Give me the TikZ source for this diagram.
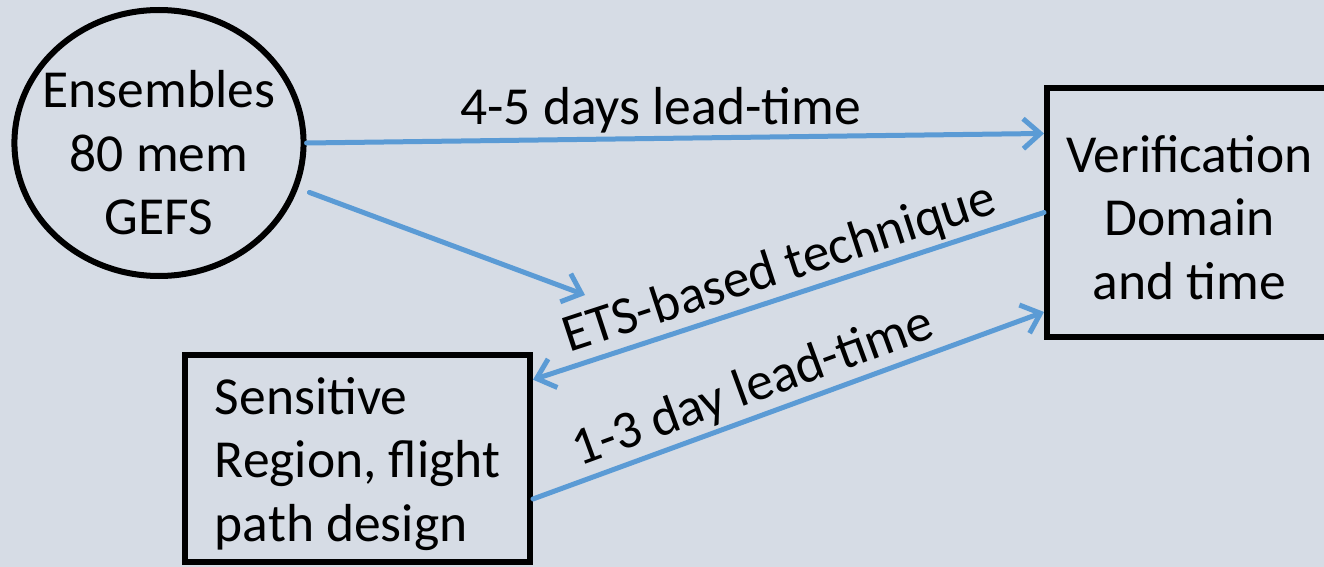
\documentclass[tikz,border=0pt]{standalone}
\usepackage{fontspec}
\setmainfont{Carlito}
\usetikzlibrary{arrows.meta,shapes.geometric,calc}
\definecolor{slide}{HTML}{D6DCE5}
\definecolor{link}{HTML}{5B9BD5}

\begin{document}
\begin{tikzpicture}[x=1pt, y=-1pt,
  font=\fontsize{53.5}{63.5}\selectfont,
  box/.style={draw, line width=6pt, rectangle, inner sep=0pt},
  flow/.style={draw=link, line width=5pt, line cap=round,
    -{Straight Barb[length=17pt,width=30pt]}},
  lbl/.style={inner sep=3pt}]
  \clip (0,0) rectangle (1324,567);
  \fill[slide] (0,0) rectangle (1324,567);
  \node[ellipse, draw, line width=6pt, minimum width=282pt, minimum height=266pt,
    inner xsep=-14pt, inner ysep=0pt, align=center] (ens) at (159,143)
    {\rule{0pt}{57pt}Ensembles\\80 mem\\GEFS};
  \node[box, minimum width=285pt, minimum height=249pt, align=center]
    (ver) at (1189.5,212.5) {\rule{0pt}{47pt}Verification\\Domain\\and time};
  \node[box, minimum width=345pt, minimum height=207pt, align=left]
    (sen) at (357.5,458.5) {\rule{0pt}{48pt}Sensitive\\Region, flight\\path design};
  \coordinate (tip) at (585,295);
  % arrows
  \draw[flow] (ens.east) -- ($(ver.north west)!.19!(ver.south west)$)
    node[lbl, above, pos=.48] {4-5 days lead-time};
  \draw[flow, shorten <=12pt] (ens.-18) -- (tip);
  \draw[flow] (ver.west) -- ($(sen.north east)!.13!(sen.south east)$)
    node[lbl, above, sloped, pos=.5] {ETS-based technique};
  \draw[flow] ($(sen.north east)!.69!(sen.south east)$) -- ($(ver.north west)!.89!(ver.south west)$)
    node[lbl, above, sloped, pos=.45] {1-3 day lead-time};
\end{tikzpicture}
\end{document}
